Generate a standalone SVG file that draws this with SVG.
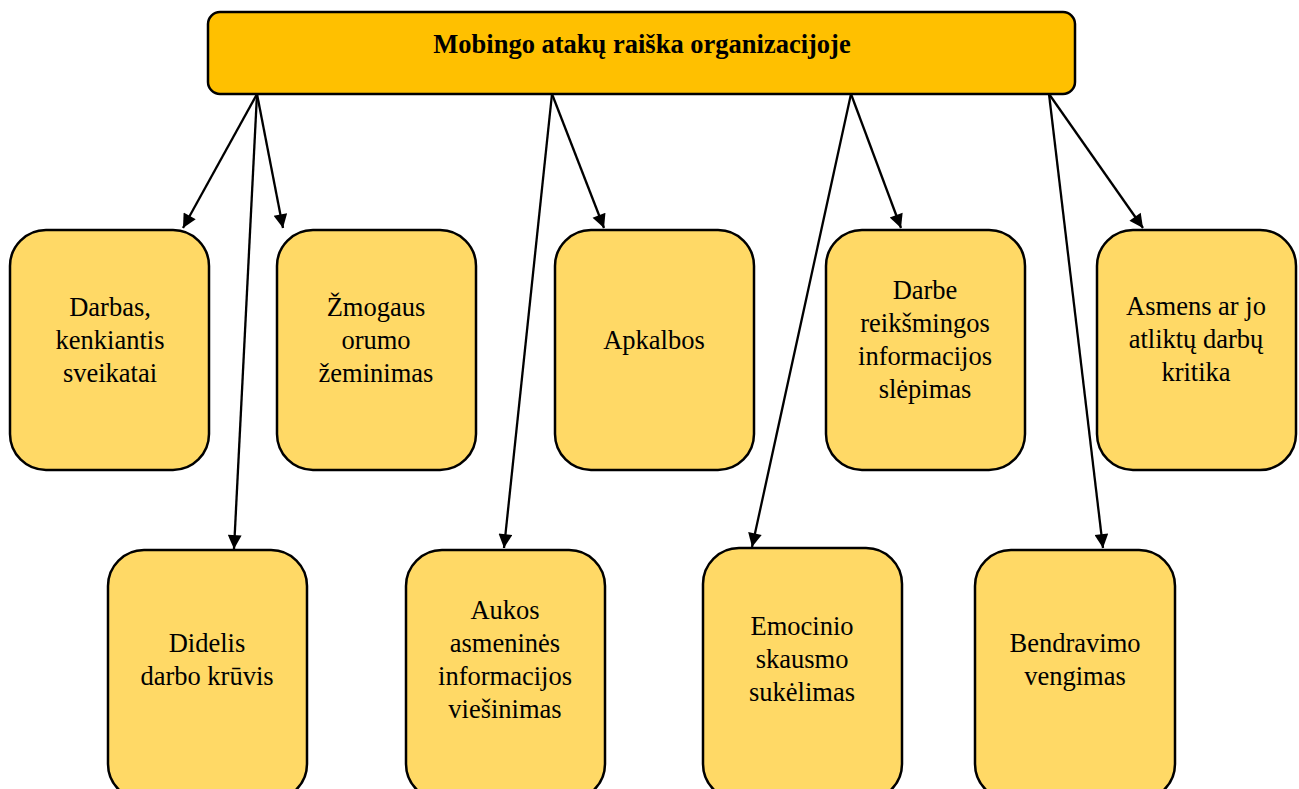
<svg xmlns="http://www.w3.org/2000/svg" width="1299" height="789" viewBox="0 0 1299 789">
<style>
.top{fill:#FFC000;stroke:#000;stroke-width:2.5}
.box{fill:#FFD966;stroke:#000;stroke-width:2.5}
text{font-family:"Liberation Serif","Times New Roman",serif;font-size:26.5px;fill:#000;text-anchor:middle}
.title{font-weight:bold}
.conn line{stroke:#000;stroke-width:2.3;marker-end:url(#ah)}
</style>
<defs>
<marker id="ah" viewBox="0 0 10 10" refX="10" refY="5" markerWidth="7.2" markerHeight="6" orient="auto" markerUnits="strokeWidth">
<path d="M0,0 L10,5 L0,10 z" fill="#000"/>
</marker>
</defs>
<rect width="1299" height="789" fill="#fff"/>
<g class="conn">
<line x1="257" y1="94" x2="183" y2="228"/>
<line x1="257" y1="94" x2="283" y2="228"/>
<line x1="257" y1="94" x2="234" y2="549"/>
<line x1="552" y1="94" x2="504" y2="548"/>
<line x1="552" y1="94" x2="604" y2="228"/>
<line x1="851" y1="94" x2="752" y2="547"/>
<line x1="851" y1="94" x2="901" y2="228"/>
<line x1="1049" y1="94" x2="1143" y2="228"/>
<line x1="1049" y1="94" x2="1103" y2="548"/>
</g>
<g id="root">
<rect class="top" x="208" y="12" width="867" height="82" rx="12"/>
<text class="title" x="642" y="53">Mobingo atakų raiška organizacijoje</text>
</g>
<g id="n1">
<rect class="box" x="10" y="230" width="199" height="240" rx="36"/>
<text x="110" y="316">Darbas,</text>
<text x="110" y="349">kenkiantis</text>
<text x="110" y="382">sveikatai</text>
</g>
<g id="n2">
<rect class="box" x="277" y="230" width="199" height="240" rx="36"/>
<text x="376" y="316">Žmogaus</text>
<text x="376" y="349">orumo</text>
<text x="376" y="382">žeminimas</text>
</g>
<g id="n3">
<rect class="box" x="555" y="230" width="199" height="240" rx="36"/>
<text x="654" y="349">Apkalbos</text>
</g>
<g id="n4">
<rect class="box" x="826" y="230" width="199" height="240" rx="36"/>
<text x="925" y="299">Darbe</text>
<text x="925" y="332">reikšmingos</text>
<text x="925" y="365">informacijos</text>
<text x="925" y="398">slėpimas</text>
</g>
<g id="n5">
<rect class="box" x="1097" y="230" width="199" height="240" rx="36"/>
<text x="1196" y="315">Asmens ar jo</text>
<text x="1196" y="348">atliktų darbų</text>
<text x="1196" y="381">kritika</text>
</g>
<g id="n6">
<rect class="box" x="108" y="550" width="199" height="250" rx="36"/>
<text x="207" y="652">Didelis</text>
<text x="207" y="685">darbo krūvis</text>
</g>
<g id="n7">
<rect class="box" x="406" y="550" width="199" height="250" rx="36"/>
<text x="505" y="619">Aukos</text>
<text x="505" y="652">asmeninės</text>
<text x="505" y="685">informacijos</text>
<text x="505" y="718">viešinimas</text>
</g>
<g id="n8">
<rect class="box" x="703" y="548" width="199" height="252" rx="36"/>
<text x="802" y="635">Emocinio</text>
<text x="802" y="668">skausmo</text>
<text x="802" y="701">sukėlimas</text>
</g>
<g id="n9">
<rect class="box" x="975" y="550" width="200" height="250" rx="36"/>
<text x="1075" y="652">Bendravimo</text>
<text x="1075" y="685">vengimas</text>
</g>
</svg>
